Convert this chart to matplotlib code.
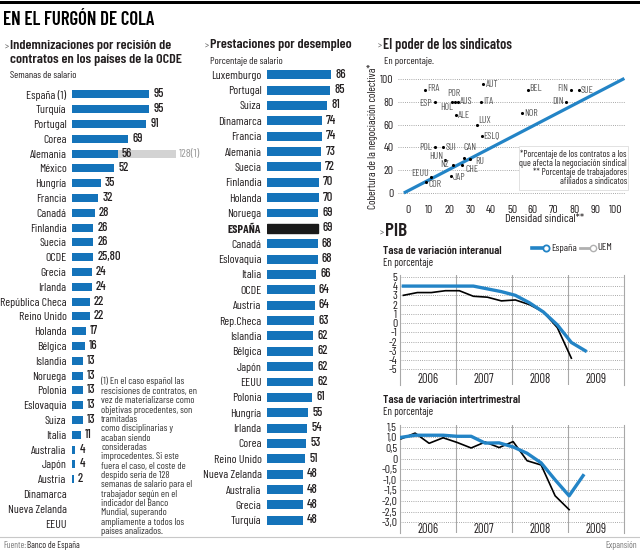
import numpy as np
import matplotlib
matplotlib.use('Agg')
import matplotlib.pyplot as plt
from matplotlib import font_manager
from matplotlib.patches import Rectangle
from matplotlib.lines import Line2D

W, H = 640, 550

# fuente estrecha: la primera que esté instalada
familias = {f.name for f in font_manager.fontManager.ttflist}
ESTRECHA = 'DejaVu Sans'
for nombre in ['Barlow Condensed', 'Roboto Condensed', 'Archivo Narrow', 'Liberation Sans Narrow']:
    if nombre in familias:
        ESTRECHA = nombre
        break
plt.rcParams['font.family'] = [ESTRECHA, 'DejaVu Sans']

AZUL = '#1473ba'
AZUL_LINEA = '#2384c6'
GRIS_BARRA = '#d3d3d3'
TEXTO = '#231f20'
GRIS_TEXTO = '#555555'

# Indemnizaciones por recisión de contratos (semanas de salario)
paises_indem = ['España (1)', 'Turquía', 'Portugal', 'Corea', 'Alemania', 'México', 'Hungría',
                'Francia', 'Canadá', 'Finlandia', 'Suecia', 'OCDE', 'Grecia', 'Irlanda',
                'República Checa', 'Reino Unido', 'Holanda', 'Bélgica', 'Islandia', 'Noruega',
                'Polonia', 'Eslovaquia', 'Suiza', 'Italia', 'Australia', 'Japón', 'Austria',
                'Dinamarca', 'Nueva Zelanda', 'EEUU']
semanas = [95, 95, 91, 69, 56, 52, 35, 32, 28, 26, 26, 25.8, 24, 24, 22, 22, 17, 16,
           13, 13, 13, 13, 13, 11, 4, 4, 2, 0, 0, 0]
etiquetas_semanas = ['95', '95', '91', '69', '56', '52', '35', '32', '28', '26', '26', '25,80',
                     '24', '24', '22', '22', '17', '16', '13', '13', '13', '13', '13', '11',
                     '4', '4', '2', '', '', '']
alemania_banco_mundial = 128

# Prestaciones por desempleo (porcentaje de salario)
paises_prest = ['Luxemburgo', 'Portugal', 'Suiza', 'Dinamarca', 'Francia', 'Alemania', 'Suecia',
                'Finlandia', 'Holanda', 'Noruega', 'ESPAÑA', 'Canadá', 'Eslovaquia', 'Italia',
                'OCDE', 'Austria', 'Rep.Checa', 'Islandia', 'Bélgica', 'Japón', 'EEUU',
                'Polonia', 'Hungría', 'Irlanda', 'Corea', 'Reino Unido', 'Nueva Zelanda',
                'Australia', 'Grecia', 'Turquía']
prestacion = [86, 85, 81, 74, 74, 73, 72, 70, 70, 69, 69, 68, 68, 66, 64, 64, 63, 62, 62,
              62, 62, 61, 55, 54, 53, 51, 48, 48, 48, 48]

# El poder de los sindicatos
codigos = ['FRA', 'ESP', 'HOL', 'POR', 'AUS', 'ALE', 'AUT', 'ITA', 'LUX', 'ESLQ', 'BEL', 'NOR',
           'FIN', 'SUE', 'DIN', 'POL', 'SUI', 'CAN', 'RU', 'CHE', 'HUN', 'NZ', 'EEUU', 'COR', 'JAP']
densidad = [8, 13, 21, 22.5, 24, 23, 36, 35, 33, 35.5, 57.5, 55, 78.5, 82, 76, 13, 17, 27,
            30, 26, 18, 21.5, 11, 8.5, 20.5]
cobertura = [90, 80, 80, 80, 80, 68, 96, 80, 60, 50, 90, 70, 90, 90, 80, 40, 40, 31, 30,
             25, 29, 25, 14, 10, 15]
tendencia_x = [-2, 104]
tendencia_y = [0, 100.5]

# PIB: tasa interanual y trimestral (España / UEM)
trim_espana = ['2006T1', '2006T2', '2006T3', '2006T4', '2007T1', '2007T2', '2007T3', '2007T4',
               '2008T1', '2008T2', '2008T3', '2008T4', '2009T1', '2009T2']
trim_uem = trim_espana[:-1]
interanual_espana = [4.0, 4.0, 4.0, 4.0, 4.0, 4.0, 3.7, 3.4, 3.0, 2.2, 1.2, -0.2, -2.1, -3.0]
interanual_uem = [3.0, 3.3, 3.3, 3.5, 3.5, 2.9, 2.8, 2.4, 2.5, 2.0, 1.2, -0.5, -3.8]
trimestral_espana = [1.0, 1.1, 1.1, 1.1, 1.05, 1.05, 0.73, 0.74, 0.55, 0.25, -0.2, -1.0, -1.75, -0.8]
trimestral_uem = [0.93, 1.2, 0.72, 0.98, 0.76, 0.5, 0.78, 0.52, 0.8, -0.1, -0.3, -1.75, -2.4]
anos = [2006, 2007, 2008, 2009]

nota = ('(1) En el caso español las\nrescisiones de contratos, en\nvez de materializarse como\n'
        'objetivas procedentes, son\ntramitadas\ncomo disciplinarias y\nacaban siendo\n'
        'consideradas\nimprocedentes. Si este\nfuera el caso, el coste de\ndespido sería de 128\n'
        'semanas de salario para el\ntrabajador según en el\nindicador del Banco\n'
        'Mundial, superando\nampliamente a todos los\npaíses analizados.')


def trimestre_a_x(t, desfase):
    return int(t[:4]) + (int(t[-1]) - 1) / 4 + desfase


fig = plt.figure(figsize=(W / 100, H / 100), dpi=100)
renderer = fig.canvas.get_renderer()


def ejes(l, t, r, b):
    return fig.add_axes([l / W, 1 - b / H, (r - l) / W, (b - t) / H])


def texto(x, y, s, ancho=None, **kw):
    kw.setdefault('va', 'center')
    kw.setdefault('color', TEXTO)
    t = fig.text(x / W, 1 - y / H, s, **kw)
    if ancho:  # ajustar el tamaño para ocupar el mismo ancho que en el original
        bb = t.get_window_extent(renderer)
        t.set_fontsize(t.get_fontsize() * ancho / bb.width)
    return t


def titulo(x, y, s, ancho=None, size=12):
    texto(x, y + 1, '>', fontsize=6.5, color=GRIS_TEXTO)
    texto(x + 5, y, s, ancho=ancho, fontsize=size, fontweight='semibold')


def sin_bordes(ax):
    for s in ax.spines.values():
        s.set_visible(False)


# cabecera
fig.add_artist(Rectangle((0, 1 - 4 / H), 1, 3.5 / H, transform=fig.transFigure,
                         color='black', lw=0))
texto(3, 20, 'EN EL FURGÓN DE COLA', ancho=152, fontsize=16, fontweight='semibold',
      color='black')

# ---- Indemnizaciones ----
titulo(5, 46, 'Indemnizaciones por recisión de', 162)
texto(10, 60, 'contratos en los países de la OCDE', ancho=172, fontsize=12,
      fontweight='semibold')
texto(10, 75, 'Semanas de salario', ancho=67, fontsize=8)

ax = ejes(72, 87, 200, 531)
filas = np.arange(len(paises_indem))
barras = ax.barh(filas, semanas, height=0.55, color=AZUL)
gris = ax.barh([4], [alemania_banco_mundial - semanas[4]], left=[semanas[4]], height=0.55,
               color=GRIS_BARRA)
ax.bar_label(barras, labels=etiquetas_semanas, padding=3, fontsize=9, fontweight='medium',
             color=TEXTO)
ax.bar_label(gris, labels=[f'{alemania_banco_mundial}(1)'], padding=2, fontsize=8.5,
             color='#9a9a9a')
ax.set_yticks(filas, paises_indem)
ax.tick_params(axis='y', length=0, pad=4, labelsize=8.5, labelcolor=TEXTO)
ax.set_xticks([])
ax.set_xlim(0, 157)
ax.set_ylim(len(paises_indem) - 0.5, -0.5)
sin_bordes(ax)

texto(101, 377, nota, fontsize=7.2, va='top', color='#333333', linespacing=1.05)

# ---- Prestaciones ----
titulo(205, 45, 'Prestaciones por desempleo', 142)
texto(210, 61, 'Porcentaje de salario', ancho=73, fontsize=8)

ax = ejes(267, 67, 362, 528)
filas = np.arange(len(paises_prest))
barras = ax.barh(filas, prestacion, height=0.58, color=AZUL)
barras[paises_prest.index('ESPAÑA')].set_color('#1a1a1a')
ax.bar_label(barras, padding=3, fontsize=9, fontweight='medium', color=TEXTO)
ax.set_yticks(filas, paises_prest)
ax.tick_params(axis='y', length=0, pad=4, labelsize=8.5, labelcolor=TEXTO)
ax.get_yticklabels()[paises_prest.index('ESPAÑA')].set_fontweight('bold')
ax.set_xticks([])
ax.set_xlim(0, 127.7)
ax.set_ylim(len(paises_prest) - 0.5, -0.5)
sin_bordes(ax)

# ---- Sindicatos ----
titulo(378, 45, 'El poder de los sindicatos', 129)
texto(384, 61, 'En porcentaje.', ancho=50, fontsize=8)

ax = ejes(398, 74, 626, 197)
ax.set_xlim(-4.8, 104.8)
ax.set_ylim(-3.5, 104.4)
ax.set_xticks(range(0, 101, 10))
ax.set_yticks(range(0, 101, 20))
ax.grid(axis='y', linestyle=(0, (1, 1.6)), color='#8c8c8c', lw=0.6)
ax.tick_params(length=0, labelsize=8.5, labelcolor=TEXTO)
ax.tick_params(axis='x', pad=6)
ax.tick_params(axis='y', pad=3)
sin_bordes(ax)
ax.plot(tendencia_x, tendencia_y, color=AZUL_LINEA, lw=2.3, solid_capstyle='butt', zorder=2)
ax.scatter(densidad, cobertura, s=5, color='black', zorder=3, linewidths=0)

desplazamientos = {
    'FRA': (3, 2, 'left'), 'ESP': (-3, -2, 'right'), 'HOL': (1, -6, 'right'),
    'POR': (-1, 8, 'center'), 'AUS': (2, 0, 'left'), 'ALE': (2, 0, 'left'),
    'AUT': (3, -1, 'left'), 'ITA': (2, 0, 'left'), 'LUX': (2, 4, 'left'),
    'ESLQ': (1, 0, 'left'), 'BEL': (2, 2, 'left'), 'NOR': (2, 0, 'left'),
    'FIN': (-3, 2, 'right'), 'SUE': (2, 0, 'left'), 'DIN': (-2, 0, 'right'),
    'POL': (-3, 0, 'right'), 'SUI': (2, 0, 'left'), 'CAN': (-1, 10, 'left'),
    'RU': (5, -3, 'left'), 'CHE': (3, -5, 'left'), 'HUN': (-2, 3, 'right'),
    'NZ': (-4, 0, 'right'), 'EEUU': (-2, 4, 'right'), 'COR': (3, -3, 'left'),
    'JAP': (2, -2, 'left'),
}
for c, x, y in zip(codigos, densidad, cobertura):
    dx, dy, ha = desplazamientos[c]
    ax.annotate(c, (x, y), xytext=(dx, dy), textcoords='offset pixels', ha=ha, va='center',
                fontsize=7, color=GRIS_TEXTO, zorder=4)

ax.add_patch(Rectangle((53.4, 2.6), 52.6, 38.6, facecolor='white', edgecolor='#dddddd',
                       lw=0.6, zorder=3, clip_on=False))
texto(627, 168, '*Porcentaje de los contratos a los\nque afecta la negociación sindical\n'
      '** Porcentaje de trabajadores\nafiliados a sindicatos', ancho=107, fontsize=7,
      ha='right', linespacing=1.0, zorder=5)
texto(505, 219, 'Densidad sindical**', fontsize=8.5)
texto(372, 136, 'Cobertura de la negociación colectiva*', fontsize=8, rotation=90, ha='center')

# ---- PIB ----
titulo(380, 232, 'PIB', size=14)


def pib(ax, y_esp, y_uem, desfase, ylim, yticks, ylabels, y_ano):
    x_esp = [trimestre_a_x(t, desfase) for t in trim_espana]
    x_uem = [trimestre_a_x(t, desfase) for t in trim_uem]
    ax.plot(x_uem, y_uem, color='black', lw=1.2, zorder=3)
    ax.plot(x_esp, y_esp, color=AZUL_LINEA, lw=2.4, zorder=4)
    ax.set_xlim(2006, 2010)
    ax.set_ylim(*ylim)
    ax.set_yticks(yticks, ylabels)
    ax.set_xticks([])
    ax.grid(axis='y', linestyle=(0, (1, 1.6)), color='#8c8c8c', lw=0.6)
    ax.tick_params(length=0, pad=2, labelsize=8.5, labelcolor=TEXTO)
    for a in anos[1:]:
        ax.axvline(a, color='#a8a8a8', lw=0.8, zorder=1)
    for lado in ['top', 'bottom']:
        ax.spines[lado].set_visible(False)
    for lado in ['left', 'right']:
        ax.spines[lado].set_color('#a8a8a8')
        ax.spines[lado].set_linewidth(0.8)
    for a in anos:
        ax.text(a + 0.5, y_ano, str(a), ha='center', va='center', fontsize=9, color=TEXTO)


texto(383, 251, 'Tasa de variación interanual', ancho=119, fontsize=9, fontweight='semibold')
texto(383, 263, 'En porcentaje', ancho=50, fontsize=8)
ax = ejes(400, 275, 624, 385)
pib(ax, interanual_espana, interanual_uem, 0.06, (-6.7, 5.2), range(-5, 6),
    [str(v) for v in range(-5, 6)], -6.1)

# leyenda
fig.add_artist(Line2D([532 / W, 544 / W], [1 - 248 / H] * 2, color=AZUL_LINEA, lw=2.6))
fig.add_artist(Line2D([546 / W], [1 - 248 / H], marker='o', ms=4.5, mfc='white',
                      mec=AZUL_LINEA, mew=1.3))
texto(551, 248, 'España', fontsize=7.5)
fig.add_artist(Line2D([580 / W, 590 / W], [1 - 248 / H] * 2, color='#b0b0b0', lw=2))
fig.add_artist(Line2D([592.5 / W], [1 - 248 / H], marker='o', ms=4.5, mfc='white',
                      mec='#b0b0b0', mew=1))
texto(597, 248, 'UEM', fontsize=7.5)

texto(383, 400, 'Tasa de variación intertrimestral', ancho=139, fontsize=9,
      fontweight='semibold')
texto(383, 412, 'En porcentaje', ancho=50, fontsize=8)
ax = ejes(400, 424.6, 624, 533)
valores = np.arange(1.5, -3.01, -0.5)
pib(ax, trimestral_espana, trimestral_uem, 0.02, (-3.5, 1.6), valores,
    [f'{v:.1f}'.replace('.', ',') if v != 0 else '0' for v in valores], -3.35)

# pie
fig.add_artist(Line2D([0, 1], [1 - 537 / H] * 2, color='#c8c8c8', lw=0.8))
texto(3, 545, 'Fuente:', fontsize=6.5, color='#777777')
texto(27, 545, 'Banco de España', fontsize=6.5)
texto(637, 545, 'Expansión', fontsize=6.5, ha='right', color='#777777')

fig.savefig('out.png', dpi=100)
